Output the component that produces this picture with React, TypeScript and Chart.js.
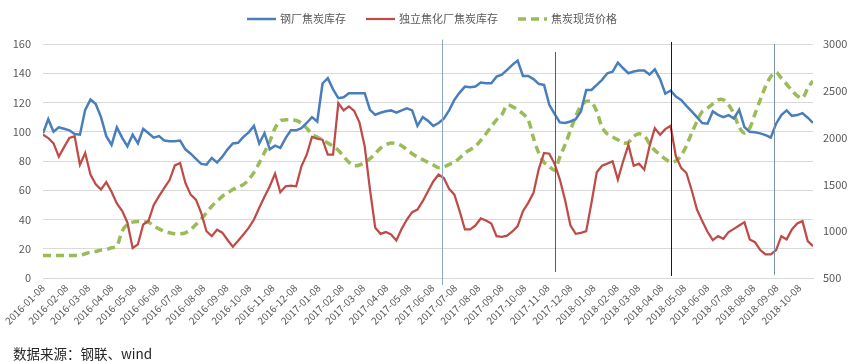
import React, { useEffect, useRef } from 'react';
import { Chart, registerables } from 'chart.js';

Chart.register(...registerables);

// first weekly observation; each following value is one week later
const START_DATE = '2016-01-08';

const monthLabels = [
  '2016-01-08', '2016-02-08', '2016-03-08', '2016-04-08', '2016-05-08', '2016-06-08',
  '2016-07-08', '2016-08-08', '2016-09-08', '2016-10-08', '2016-11-08', '2016-12-08',
  '2017-01-08', '2017-02-08', '2017-03-08', '2017-04-08', '2017-05-08', '2017-06-08',
  '2017-07-08', '2017-08-08', '2017-09-08', '2017-10-08', '2017-11-08', '2017-12-08',
  '2018-01-08', '2018-02-08', '2018-03-08', '2018-04-08', '2018-05-08', '2018-06-08',
  '2018-07-08', '2018-08-08', '2018-09-08', '2018-10-08',
];

const steelMillStock = [
  99, 108.6, 100, 103, 102, 101, 98.5, 98, 115, 122, 119, 110, 97, 91, 103, 96, 90, 98, 92, 102,
  99, 96, 97, 94, 93.5, 93.5, 94, 88, 85, 81.5, 78, 77.5, 82, 79, 83, 88, 92, 92.5,
  96.5, 99.6, 104, 92, 99, 88, 90.5, 89, 95.7, 101, 101, 102.5, 106, 110, 107, 133, 136.6, 129,
  123, 123.6, 126.4, 126.4, 126.4, 126.4, 115, 111.6, 113, 114, 114.6, 113, 114.6, 116, 114.6,
  104, 110, 107.5, 104,
  106, 109, 114.6, 121.8, 126.8, 130.9, 130.5, 130.9, 133.6, 133.2, 133.2, 137.7, 139, 142.3,
  145.7, 148.7, 138.2, 138.2, 136, 132.7, 132, 118.4, 112.3, 106.4, 106, 107, 108.6, 113.9,
  128.6, 128.6, 132, 135.5, 140, 141, 147.3, 143.4, 140,
  141.2, 141.8, 141.8, 139.1, 142.7, 136, 126, 128.2, 124, 121.8, 117.7, 113.9, 110, 106, 105.5,
  113.9, 111.6, 110, 111.4, 109.1, 115, 103.2, 100, 99.6, 98.9, 97.7, 96.1, 105.5, 111.4, 114.6,
  110.9, 111.4, 112.7, 109.6, 106,
];

const cokingPlantStock = [
  98, 95.7, 92, 83, 89.5, 95.7, 97, 77.5, 85.5, 70.7, 64, 60.5, 65.5, 59, 51, 46, 38, 20.5, 23,
  36.6, 39, 50, 56, 61.6, 67, 77, 78.6, 65, 57, 53.6, 44.5, 32, 28.6, 33, 31, 26, 21.4, 25.5,
  29.8, 34.3, 40, 48, 55.5, 62.7, 71.4, 58.6, 62.7, 63.2, 62.7, 76.4, 84.3, 96.4, 95.2, 94.6,
  84.3, 84.3, 119.6, 114.6, 117.3, 114.3, 106.4, 90, 60.5, 34.3, 30.2, 31.4, 29.8, 25.7, 33.6,
  40, 45, 46.8, 52.5, 59.3, 66,
  70.7, 68.4, 61, 57, 45.7, 33.2, 33.2, 36, 40.7, 39.3, 37.3, 28.6, 28.2, 29, 31.8, 35.5, 45.7,
  51.4, 58.2, 74.5, 85.5, 85, 78.2, 67.3, 53.2, 36, 30.2, 30.9, 32, 51.4, 72.3, 76.8, 78.2, 79.8,
  67.3, 79.8, 91,
  76.8, 78.2, 74.1, 90, 102.5, 98, 101.8, 104.1, 83.2, 75.3, 71.8, 60, 46.8, 38.9, 31.6, 25.9,
  28.6, 26.8, 31.4, 33.6, 35.9, 38.2, 26.4, 24.5, 19.1, 16.1, 16.1, 19.1, 28.6, 26.4, 33.2, 37.3,
  38.9, 25.2, 21.8,
];

const cokeSpotPrice = [
  740, 740, 740, 740, 740, 740, 740, 740, 759, 777, 784, 798, 805, 823, 841, 1000, 1072, 1097,
  1104, 1097, 1097, 1054, 1025, 1000, 983, 972, 972, 983, 1018, 1072, 1132, 1196, 1267, 1320,
  1373, 1409, 1445, 1473,
  1498, 1551, 1629, 1729, 1842, 1959, 2101, 2180, 2190, 2190, 2183, 2155, 2101, 2038, 2006, 1977,
  1942, 1906, 1864, 1800, 1736, 1700, 1707, 1736, 1775, 1828, 1888, 1924, 1942, 1935, 1913, 1871,
  1828, 1793, 1764, 1736, 1707,
  1679, 1686, 1714, 1736, 1782, 1835, 1871, 1906, 1970, 2041, 2119, 2190, 2244, 2346, 2332, 2297,
  2254, 2190, 1995, 1835, 1736, 1693, 1651, 1793, 1924, 2077, 2226, 2339, 2386, 2382, 2279, 2112,
  2038, 2006, 1977, 1942, 1950,
  2013, 2041, 2020, 1935, 1864, 1817, 1771, 1739, 1750, 1807, 1913, 2048, 2173, 2279, 2315, 2361,
  2403, 2403, 2350, 2254, 2112, 2048, 2101, 2254, 2403, 2545, 2652, 2698, 2634, 2570, 2503, 2446,
  2421, 2528, 2606,
];

// annotation lines drawn on the original chart
const markerDates = ['2017-06-20', '2017-11-17', '2018-04-21', '2018-09-04'];
const markerColors = ['#8EA6C6', '#4F5E72', '#1A1A1A', '#7C93B0'];
const markerTopValues = [163, 154.5, 161.4, 160];
const markerBottomValues = [-4.8, 4.1, 1.4, 2];

const FONT = '"Noto Sans CJK SC", "DejaVu Sans", sans-serif';
const TEXT_COLOR = '#595959';

const dayOffset = (s: string) => {
  const [y, m, d] = s.split('-').map(Number);
  const [y0, m0, d0] = START_DATE.split('-').map(Number);
  return Math.round((Date.UTC(y, m - 1, d) - Date.UTC(y0, m0 - 1, d0)) / 86400000);
};

const monthTickValues = monthLabels.map(dayOffset);
const toPoints = (arr: number[]) => arr.map((v, i) => ({ x: i * 7, y: v }));
const lastDay = (steelMillStock.length - 1) * 7;

const markerPlugin = {
  id: 'markerLines',
  afterDatasetsDraw(chart: any) {
    const { ctx } = chart;
    const xs = chart.scales.x;
    const ys = chart.scales.y;
    ctx.save();
    markerDates.forEach((d, i) => {
      const x = Math.round(xs.getPixelForValue(dayOffset(d))) + 0.5;
      ctx.beginPath();
      ctx.strokeStyle = markerColors[i];
      ctx.lineWidth = 1;
      ctx.moveTo(x, ys.getPixelForValue(markerTopValues[i]));
      ctx.lineTo(x, ys.getPixelForValue(markerBottomValues[i]));
      ctx.stroke();
    });
    ctx.restore();
  },
};

const legendPlugin = {
  id: 'lineLegend',
  afterDraw(chart: any) {
    const { ctx } = chart;
    ctx.save();
    ctx.font = `11px ${FONT}`;
    ctx.textBaseline = 'middle';
    ctx.textAlign = 'left';
    const lineLen = 29;
    const gapText = 4;
    const gapItem = 20;
    const items = chart.data.datasets.map((ds: any) => ({
      text: ds.label,
      color: ds.borderColor,
      width: ds.borderWidth,
      dash: ds.borderDash || [],
    }));
    const widths = items.map((it: any) => lineLen + gapText + ctx.measureText(it.text).width);
    const total = widths.reduce((a: number, b: number) => a + b, 0) + gapItem * (items.length - 1);
    let x = chart.width / 2 + 6 - total / 2;
    const y = 19;
    items.forEach((it: any, i: number) => {
      ctx.beginPath();
      ctx.setLineDash(it.dash);
      ctx.strokeStyle = it.color;
      ctx.lineWidth = it.width;
      ctx.moveTo(x, y);
      ctx.lineTo(x + lineLen, y);
      ctx.stroke();
      ctx.setLineDash([]);
      ctx.fillStyle = TEXT_COLOR;
      ctx.fillText(it.text, x + lineLen + gapText, y);
      x += widths[i] + gapItem;
    });
    ctx.restore();
  },
};

export default function App() {
  const canvasRef = useRef<HTMLCanvasElement | null>(null);

  useEffect(() => {
    if (!canvasRef.current) return;
    const chart = new Chart(canvasRef.current, {
      type: 'line',
      data: {
        datasets: [
          {
            label: '钢厂焦炭库存',
            data: toPoints(steelMillStock),
            borderColor: '#4A7EBB',
            borderWidth: 2.5,
            pointRadius: 0,
            tension: 0,
            yAxisID: 'y',
          },
          {
            label: '独立焦化厂焦炭库存',
            data: toPoints(cokingPlantStock),
            borderColor: '#BE4B48',
            borderWidth: 2.25,
            pointRadius: 0,
            tension: 0,
            yAxisID: 'y',
          },
          {
            label: '焦炭现货价格',
            data: toPoints(cokeSpotPrice),
            borderColor: '#9BBB59',
            borderWidth: 3.5,
            borderDash: [8, 5],
            pointRadius: 0,
            tension: 0.3,
            yAxisID: 'y1',
          },
        ],
      },
      options: {
        animation: false,
        responsive: false,
        maintainAspectRatio: false,
        layout: { padding: { top: 44, left: 0, right: 0, bottom: 0 } },
        plugins: {
          legend: { display: false },
          tooltip: { enabled: false },
        },
        scales: {
          x: {
            type: 'linear',
            min: 0,
            max: lastDay,
            afterBuildTicks: (s: any) => {
              s.ticks = monthTickValues.map((v) => ({ value: v }));
            },
            afterFit: (s: any) => {
              s.height = 84;
            },
            ticks: {
              autoSkip: false,
              minRotation: 45,
              maxRotation: 45,
              padding: 4,
              color: TEXT_COLOR,
              font: { family: FONT, size: 10 },
              callback: (_v: any, i: number) => monthLabels[i],
            },
            grid: { display: false, drawTicks: false },
            border: { display: true, color: '#D9D9D9' },
          },
          y: {
            position: 'left',
            min: 0,
            max: 160,
            afterFit: (s: any) => {
              s.width = 43;
            },
            ticks: {
              stepSize: 20,
              padding: 12,
              color: TEXT_COLOR,
              font: { family: FONT, size: 11 },
              callback: (v: any) => String(v),
            },
            grid: { color: '#D9D9D9', drawTicks: false },
            border: { display: false },
          },
          y1: {
            position: 'right',
            min: 500,
            max: 3000,
            afterFit: (s: any) => {
              s.width = 39;
            },
            ticks: {
              stepSize: 500,
              padding: 10,
              color: TEXT_COLOR,
              font: { family: FONT, size: 11 },
              callback: (v: any) => String(v),
            },
            grid: { display: false, drawTicks: false },
            border: { display: false },
          },
        },
      },
      plugins: [markerPlugin, legendPlugin],
    });
    return () => chart.destroy();
  }, []);

  return (
    <div
      style={{
        position: 'fixed',
        left: 0,
        top: 0,
        width: 852,
        height: 362,
        background: '#ffffff',
        overflow: 'hidden',
      }}
    >
      <canvas ref={canvasRef} width={852} height={362} style={{ display: 'block' }} />
      <div
        style={{
          position: 'absolute',
          left: 13,
          top: 346,
          fontFamily: FONT,
          fontSize: 13.5,
          lineHeight: '14px',
          color: '#262626',
          whiteSpace: 'nowrap',
        }}
      >
        数据来源：钢联、wind
      </div>
    </div>
  );
}
